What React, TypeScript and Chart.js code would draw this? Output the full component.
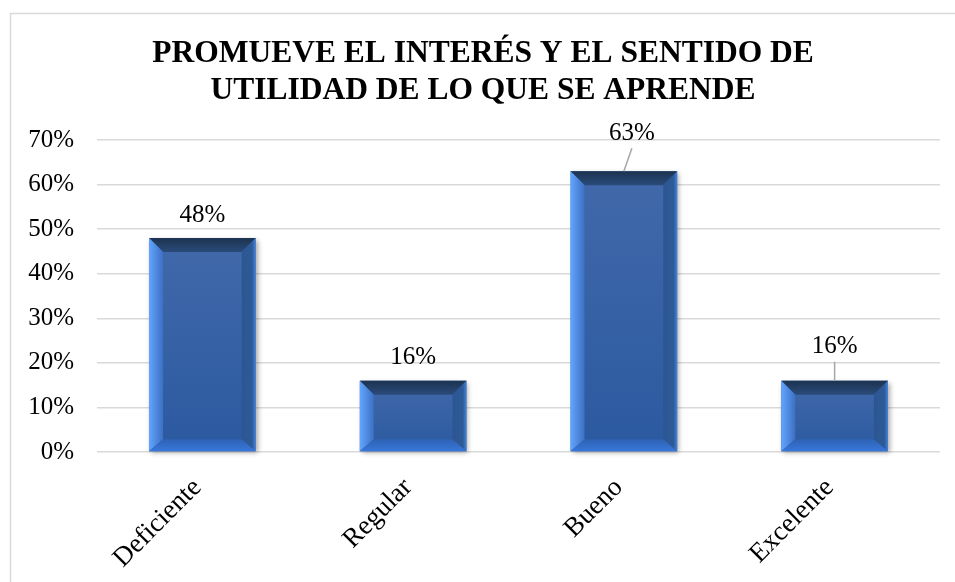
import React, { useEffect, useRef } from "react";
import { Chart, registerables } from "chart.js";

Chart.register(...registerables);

const categories = ["Deficiente", "Regular", "Bueno", "Excelente"];
const values = [48, 16, 63, 16];
const titleLines = ["PROMUEVE EL INTERÉS Y EL SENTIDO DE", "UTILIDAD DE LO QUE SE APRENDE"];
const yMin = 0;
const yMax = 70;
const yStep = 10;

const TICK_FONT = "Liberation Serif";
const TICK_SIZE = 25;
const XLABEL_SIZE = 27;

function poly(ctx: CanvasRenderingContext2D, pts: number[][], fill: any) {
  ctx.beginPath();
  ctx.moveTo(pts[0][0], pts[0][1]);
  for (let i = 1; i < pts.length; i++) ctx.lineTo(pts[i][0], pts[i][1]);
  ctx.closePath();
  ctx.fillStyle = fill;
  ctx.fill();
}

function drawBevelBar(ctx: CanvasRenderingContext2D, left: number, top: number, right: number, bottom: number) {
  const b = Math.min(14, (right - left) / 2, (bottom - top) / 2);
  const bb = Math.min(12, (bottom - top) / 2);
  ctx.save();
  ctx.shadowColor = "rgba(0,0,0,0.35)";
  ctx.shadowBlur = 5;
  ctx.shadowOffsetX = 2;
  ctx.shadowOffsetY = 2;
  const face = ctx.createLinearGradient(0, top, 0, bottom);
  face.addColorStop(0, "#4169aa");
  face.addColorStop(1, "#2b59a0");
  ctx.fillStyle = face;
  ctx.fillRect(left, top, right - left, bottom - top);
  ctx.restore();

  const gTop = ctx.createLinearGradient(0, top, 0, top + b);
  gTop.addColorStop(0, "#1c3350");
  gTop.addColorStop(1, "#2a4b7b");
  poly(ctx, [[left, top], [right, top], [right - b, top + b], [left + b, top + b]], gTop);

  const gLeft = ctx.createLinearGradient(left, 0, left + b, 0);
  gLeft.addColorStop(0, "#62a5ff");
  gLeft.addColorStop(1, "#3c70c2");
  poly(ctx, [[left, top], [left + b, top + b], [left + b, bottom - bb], [left, bottom]], gLeft);

  const gRight = ctx.createLinearGradient(right, 0, right - b, 0);
  gRight.addColorStop(0, "#4684dc");
  gRight.addColorStop(0.25, "#2d5b98");
  gRight.addColorStop(1, "#2c5692");
  poly(ctx, [[right, top], [right, bottom], [right - b, bottom - bb], [right - b, top + b]], gRight);

  const gBottom = ctx.createLinearGradient(0, bottom - bb, 0, bottom);
  gBottom.addColorStop(0, "#2e62b4");
  gBottom.addColorStop(1, "#3877da");
  poly(ctx, [[left, bottom], [left + b, bottom - bb], [right - b, bottom - bb], [right, bottom]], gBottom);
}

const framePlugin = {
  id: "frame",
  beforeDraw(chart: any) {
    const ctx = chart.ctx;
    ctx.save();
    ctx.fillStyle = "#ffffff";
    ctx.fillRect(0, 0, chart.width, chart.height);
    ctx.strokeStyle = "#d9d9d9";
    ctx.lineWidth = 1.5;
    ctx.strokeRect(10.5, 13.5, chart.width + 20, chart.height + 20);
    ctx.restore();
  },
};

const bevelBarsPlugin = {
  id: "bevelBars",
  afterDatasetsDraw(chart: any, _args: any, opts: any) {
    const ctx = chart.ctx;
    const meta = chart.getDatasetMeta(0);
    const leaders = opts.leaders || {};
    ctx.save();
    meta.data.forEach((el: any) => {
      const p = el.getProps(["x", "y", "base", "width"], true);
      const left = p.x - p.width / 2;
      const right = p.x + p.width / 2;
      const top = Math.min(p.y, p.base);
      const bottom = Math.max(p.y, p.base);
      drawBevelBar(ctx, left, top, right, bottom);
    });
    meta.data.forEach((el: any, i: number) => {
      const p = el.getProps(["x", "y"], true);
      const ld = leaders[i];
      const lift = ld ? ld.lift : opts.lift;
      const dx = ld ? ld.dx : 0;
      const lx = p.x + dx;
      const ly = p.y - lift;
      if (ld) {
        ctx.beginPath();
        ctx.strokeStyle = "#a6a6a6";
        ctx.lineWidth = 1.5;
        ctx.moveTo(lx, ly + 15);
        ctx.lineTo(p.x, p.y);
        ctx.stroke();
      }
      ctx.font = `${TICK_SIZE}px "${TICK_FONT}"`;
      ctx.fillStyle = "#000000";
      ctx.textAlign = "center";
      ctx.textBaseline = "middle";
      ctx.fillText(chart.data.datasets[0].data[i] + "%", lx, ly);
    });
    ctx.restore();
  },
};

export default function App() {
  const ref = useRef<HTMLCanvasElement | null>(null);
  useEffect(() => {
    if (!ref.current) return;
    const chart = new Chart(ref.current, {
      type: "bar",
      data: {
        labels: categories,
        datasets: [
          {
            data: values,
            backgroundColor: "rgba(0,0,0,0)",
            borderWidth: 0,
            categoryPercentage: 1,
            barPercentage: 0.506,
          },
        ],
      },
      options: {
        responsive: false,
        animation: false,
        layout: { padding: { top: 13, left: 26, right: 15, bottom: 0 } },
        plugins: {
          legend: { display: false },
          tooltip: { enabled: false },
          title: {
            display: true,
            text: titleLines,
            color: "#000000",
            font: { family: "Liberation Serif", size: 31.5, weight: "bold", lineHeight: 1.19 },
            padding: { top: 22, bottom: 30 },
          },
          bevelBars: {
            lift: 23,
            leaders: { 2: { dx: 8, lift: 38 }, 3: { dx: 0, lift: 34 } },
          },
        } as any,
        scales: {
          x: {
            grid: { display: false, drawTicks: false },
            border: { display: false },
            ticks: {
              color: "#000000",
              font: { family: TICK_FONT, size: XLABEL_SIZE },
              minRotation: 45,
              maxRotation: 45,
              padding: 20,
              labelOffset: -5,
            },
            afterFit: (s: any) => {
              s.height = 130;
            },
          },
          y: {
            min: yMin,
            max: yMax,
            grid: { color: "#d9d9d9", lineWidth: 1.5, drawTicks: false },
            border: { display: false },
            ticks: {
              stepSize: yStep,
              color: "#000000",
              font: { family: TICK_FONT, size: TICK_SIZE },
              padding: 23,
              callback: (v: any) => v + "%",
            },
            afterFit: (s: any) => {
              s.width = 71;
            },
          },
        },
      },
      plugins: [framePlugin, bevelBarsPlugin],
    });
    return () => chart.destroy();
  }, []);
  return (
    <div style={{ position: "absolute", left: 0, top: 0, width: 955, height: 582 }}>
      <canvas ref={ref} width={955} height={582} style={{ display: "block" }} />
    </div>
  );
}
